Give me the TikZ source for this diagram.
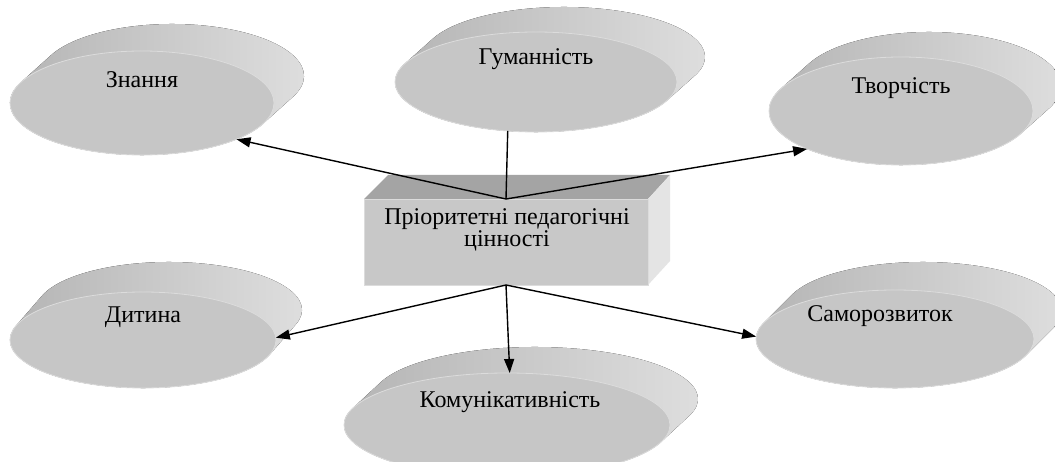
\documentclass[tikz,border=0pt]{standalone}
\usepackage{fontspec}
\setmainfont{Liberation Serif}
\usetikzlibrary{shapes.geometric,arrows.meta}
\definecolor{faceC}{HTML}{C6C6C6}
\definecolor{rimC}{HTML}{DCDCDC}
\definecolor{sideL}{HTML}{B2B2B2}
\definecolor{sideM}{HTML}{9A9A9A}
\definecolor{sideR}{HTML}{E0E0E0}
\definecolor{boxFront}{HTML}{C8C8C8}
\definecolor{boxTop}{HTML}{A4A4A4}
\definecolor{boxSide}{HTML}{E4E4E4}
\tikzset{
  disc/.style={ellipse, fill=faceC, draw=rimC, line width=0.8pt, inner sep=0pt, outer sep=0pt},
  sideshade/.style={left color=sideL, middle color=sideM, right color=sideR},
  lbl/.style={font=\fontsize{24}{22}\selectfont, text=black, inner sep=0pt},
  conn/.style={line width=1.4pt, draw=black},
  arr/.style={conn, -{Triangle[length=14pt,width=10pt]}},
}
% #1 name, #2 cx, #3 cy, #4 a, #5 b, #6 dx, #7 dy, #8 text x-shift, #9 text
\newcommand{\mydisc}[9]{%
  \pgfmathsetmacro{\tz}{atan(-(#5)*(#6)/((#4)*(#7)))}%
  \pgfmathsetmacro{\px}{#2+#4*cos(\tz)}%
  \pgfmathsetmacro{\py}{#3+#5*sin(\tz)}%
  \fill[sideshade] (\px,\py) -- ++(#6,#7)
     arc[start angle=\tz, end angle=\tz+180, x radius=#4pt, y radius=#5pt]
     -- ++(-#6,-#7)
     arc[start angle=\tz+180, end angle=\tz+360, x radius=#4pt, y radius=#5pt]
     -- cycle;
  \node[disc, minimum width=2*#4, minimum height=2*#5] (#1) at (#2,#3) {};
  \node[lbl] (#1-t) at (#2+#8,#3+23) {#9};
}
\begin{document}
\begin{tikzpicture}[x=1pt,y=1pt]
\path[use as bounding box] (0,0) rectangle (1055,461);
\clip (0,0) rectangle (1055,461);
\fill[white] (0,0) rectangle (1055,461);

\mydisc{znannya}{142}{358}{132}{52}{30}{27}{0}{Знання}
\mydisc{human}{536}{379}{141}{50}{28}{25}{0}{Гуманність}
\mydisc{tvor}{901}{350}{132}{54}{28}{25}{0}{Творчість}
\mydisc{dytyna}{143}{121}{133}{48}{26}{30}{0}{Дитина}
\mydisc{komun}{507}{36}{163}{52}{28}{26}{3}{Комунікативність}
\mydisc{samo}{895}{122}{139}{49}{28}{28}{-15}{Саморозвиток}

% box
\fill[boxTop] (364,262) -- (648,262) -- (670,286) -- (388,286) -- cycle;
\fill[boxSide] (648,176) -- (648,262) -- (670,286) -- (670,200) -- cycle;
\node[rectangle, fill=boxFront, draw=rimC, line width=0.6pt, minimum width=284pt, minimum height=86pt, inner sep=0pt, outer sep=0pt] (box) at (506,219) {};
\node[lbl, align=center] (box-t) at (507,231) {Пріоритетні педагогічні\\цінності};

% connectors
\draw[conn] (box.north) -- (human.-120);
\draw[arr] (box.north) -- (znannya.-21);
\draw[arr] (box.north) -- (tvor.-158);
\draw[arr] (box.south) -- (dytyna.1);
\draw[arr] (box.south) -- (komun.87);
\draw[arr] (box.south) -- (samo.179);
\end{tikzpicture}
\end{document}
